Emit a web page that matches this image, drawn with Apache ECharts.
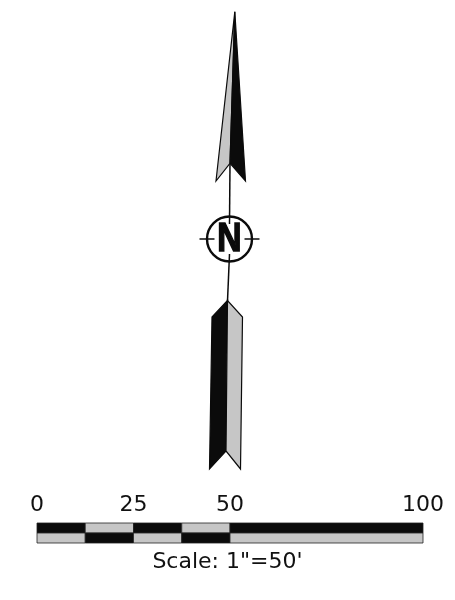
<!DOCTYPE html>
<html>
<head>
<meta charset="utf-8">
<script src="https://cdn.jsdelivr.net/npm/echarts@6/dist/echarts.min.js"></script>
<style>html,body{margin:0;padding:0;background:#fff}#c{width:455px;height:600px}</style>
</head>
<body>
<div id="c"></div>
<script>
// ---- data ----
const scaleTicks = [0, 25, 50, 100];            // feet labels on the scale bar
const scaleStarts = [0, 12.5, 25, 37.5, 50];      // segment starts (ft)
const scaleEnds = [12.5, 25, 37.5, 50, 100];      // segment ends (ft)
const topRowDark = [1, 0, 1, 0, 1];               // 1 = black cell in upper row
const scaleText = 'Scale: 1"=50\'';
const roseCenter = [[229.5, 239]];                // compass rose position in sheet units
const northLabel = 'N';

// ---- build ----
const GRAY = '#c6c6c6', BLACK = '#0b0b0b';
const cells = [];
scaleStarts.forEach((s, i) => {
  cells.push([s, scaleEnds[i], 1, topRowDark[i]]);
  cells.push([s, scaleEnds[i], 0, 1 - topRowDark[i]]);
});

function poly(c, pts, fill) {
  return {type: 'polygon', shape: {points: pts.map(p => [c[0] + p[0], c[1] + p[1]])},
    style: {fill: fill, stroke: BLACK, lineWidth: 1.2, lineJoin: 'miter'}};
}
function line(c, a, b, w) {
  return {type: 'line', shape: {x1: c[0] + a[0], y1: c[1] + a[1], x2: c[0] + b[0], y2: c[1] + b[1]},
    style: {stroke: BLACK, lineWidth: w || 1.5}};
}

const chart = echarts.init(document.getElementById('c'), null, {renderer: 'canvas'});
chart.setOption({
  animation: false,
  backgroundColor: '#ffffff',
  grid: [
    {left: 0, top: 0, width: 455, height: 600},
    {left: 37, top: 523, width: 386, height: 20}
  ],
  xAxis: [
    {gridIndex: 0, type: 'value', min: 0, max: 455, show: false},
    {gridIndex: 1, type: 'value', min: 0, max: 100, interval: 25, position: 'top',
      axisLine: {show: false}, axisTick: {show: false}, splitLine: {show: false},
      axisLabel: {show: true, margin: 7, color: '#111', fontSize: 22, fontFamily: 'DejaVu Sans',
        formatter: v => scaleTicks.indexOf(v) >= 0 ? String(v) : ''}}
  ],
  yAxis: [
    {gridIndex: 0, type: 'value', min: 0, max: 600, inverse: true, show: false},
    {gridIndex: 1, type: 'value', min: 0, max: 2, show: false}
  ],
  graphic: [{
    type: 'text', left: 'center', top: 551,
    style: {text: scaleText, fontSize: 22, fontFamily: 'DejaVu Sans', fill: '#111'}
  }],
  series: [
    {
      type: 'custom', xAxisIndex: 1, yAxisIndex: 1, silent: true,
      data: cells,
      renderItem: function (params, api) {
        const p0 = api.coord([api.value(0), api.value(2) + 1]);
        const p1 = api.coord([api.value(1), api.value(2)]);
        return {type: 'rect', shape: {x: p0[0], y: p0[1], width: p1[0] - p0[0], height: p1[1] - p0[1]},
          style: {fill: api.value(3) ? BLACK : GRAY, stroke: '#222', lineWidth: 0.8}};
      }
    },
    {
      type: 'custom', xAxisIndex: 0, yAxisIndex: 0, silent: true,
      data: roseCenter,
      renderItem: function (params, api) {
        const c = api.coord([api.value(0), api.value(1)]);
        const r = 22.5;
        return {type: 'group', children: [
          // shaft
          line(c, [0.5, -76], [0, -15], 1.5),
          line(c, [0, 15], [-2, 62], 1.5),
          // horizontal ticks
          line(c, [-30, 0], [-15, 0], 1.5),
          line(c, [15, 0], [30, 0], 1.5),
          // circle
          {type: 'circle', shape: {cx: c[0], cy: c[1], r: r},
            style: {fill: 'none', stroke: BLACK, lineWidth: 2.4}},
          // N
          {type: 'text', x: c[0], y: c[1] + 1, scaleX: 0.84,
            style: {text: northLabel, fontSize: 40, fontWeight: 'bold', fontFamily: 'Liberation Sans',
              fill: BLACK, stroke: BLACK, lineWidth: 1.6, align: 'center', verticalAlign: 'middle'}},
          // upper arrowhead: left gray, right black
          poly(c, [[5.3, -227.3], [-13.5, -58], [0.5, -75.7]], GRAY),
          poly(c, [[5.3, -227.3], [0.5, -75.7], [16, -58]], BLACK),
          // lower feather: left black, right gray
          poly(c, [[-2, 61.5], [-17.5, 78], [-20, 230], [-3.5, 212]], BLACK),
          poly(c, [[-2, 61.5], [-3.5, 212], [11, 230], [13, 78]], GRAY)
        ]};
      }
    }
  ]
});
</script>
</body>
</html>
